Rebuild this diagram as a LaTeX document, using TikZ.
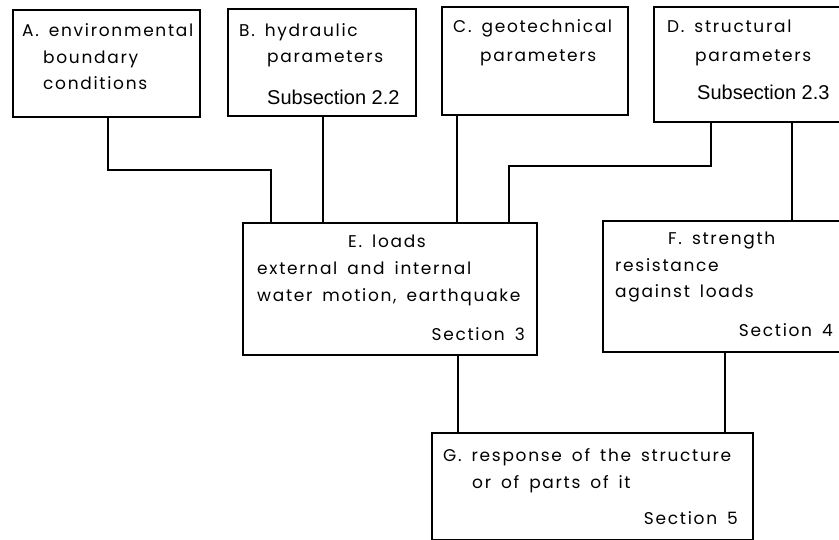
\documentclass[tikz,border=0pt]{standalone}
\usepackage{fontspec}
\setmainfont{Poppins}
\newfontfamily\cadfont[LetterSpace=10,WordSpace=1.6]{Poppins}
\newfontfamily\subsfont{Liberation Sans}
\usetikzlibrary{fit}
\begin{document}
\begin{tikzpicture}[x=1pt,y=-1pt,
  box/.style={draw, line width=1.3pt, inner sep=0pt, fit=#1},
  wire/.style={line width=1.2pt},
  cad/.style={inner sep=0pt, font=\cadfont\fontsize{17}{20}\selectfont},
  txt/.style={cad, anchor=base west},
  txtc/.style={cad, anchor=base},
  txtr/.style={cad, anchor=base east},
  subs/.style={anchor=base west, inner sep=0pt, font=\subsfont\fontsize{20}{22}\selectfont}]
\useasboundingbox (0,0) rectangle (839,540);
\clip (0,0) rectangle (839,540);
% box corners
\coordinate (a1) at (13,10);  \coordinate (a2) at (200,117);
\coordinate (b1) at (228,9);  \coordinate (b2) at (416,116);
\coordinate (c1) at (442,7);  \coordinate (c2) at (628,115);
\coordinate (d1) at (654,7);  \coordinate (d2) at (860,122);
\coordinate (e1) at (243,223); \coordinate (e2) at (537,355);
\coordinate (f1) at (603,221); \coordinate (f2) at (860,352);
\coordinate (g1) at (432,433); \coordinate (g2) at (753,540);
\node[box=(a1)(a2)] (A) {};
\node[box=(b1)(b2)] (B) {};
\node[box=(c1)(c2)] (C) {};
\node[box=(d1)(d2)] (D) {};
\node[box=(e1)(e2)] (E) {};
\node[box=(f1)(f2)] (F) {};
\node[box=(g1)(g2)] (G) {};
% texts
\node[txt] (A1) at (22,37) {A. environmental};
\node[txt] (A2) at (43,64) {boundary};
\node[txt] (A3) at (43,90) {conditions};
\node[txt] (B1) at (239,37) {B. hydraulic};
\node[txt] (B2) at (267,63) {parameters};
\node[subs] (B3) at (267,105) {Subsection 2.2};
\node[txt] (C1) at (453,33) {C. geotechnical};
\node[txt] (C2) at (480,62) {parameters};
\node[txt] (D1) at (667,33) {D. structural};
\node[txt] (D2) at (695,62) {parameters};
\node[subs] (D3) at (697,100) {Subsection 2.3};
\node[txtc] (E1) at (387,248) {E. loads};
\node[txt] (E2) at (257,275) {external and internal};
\node[txt] (E3) at (257,302) {water motion, earthquake};
\node[txtr] (E4) at (525,341) {Section 3};
\node[txt] (F1) at (668,245) {F. strength};
\node[txt] (F2) at (615,272) {resistance};
\node[txt] (F3) at (615,298) {against loads};
\node[txtr] (F4) at (833,337) {Section 4};
\node[txt] (G1) at (443,461) {G. response of the structure};
\node[txt] (G2) at (472,488) {or of parts of it};
\node[txtr] (G3) at (738,524) {Section 5};
% connectors
\draw[wire] (108,0 |- A.south) |- (271,170) -- (271,0 |- E.north);
\draw[wire] (323,0 |- B.south) -- (323,0 |- E.north);
\draw[wire] (457,0 |- C.south) -- (457,0 |- E.north);
\draw[wire] (711,0 |- D.south) |- (509,166) -- (509,0 |- E.north);
\draw[wire] (792,0 |- D.south) -- (792,0 |- F.north);
\draw[wire] (458,0 |- E.south) -- (458,0 |- G.north);
\draw[wire] (725,0 |- F.south) -- (725,0 |- G.north);
\end{tikzpicture}
\end{document}
